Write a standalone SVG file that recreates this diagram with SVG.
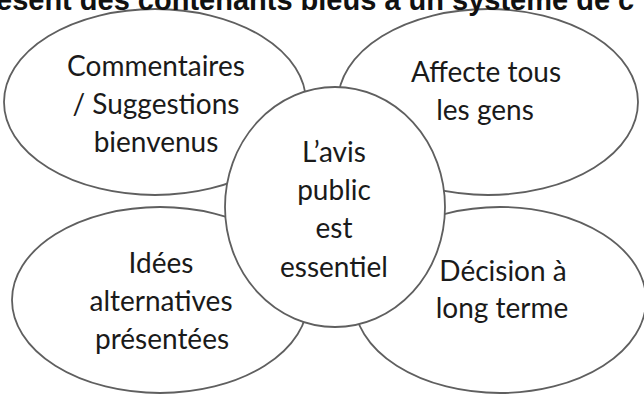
<svg xmlns="http://www.w3.org/2000/svg" width="644" height="395" viewBox="0 0 644 395">
<style>
.bg{fill:#ffffff}
.node{fill:#ffffff;stroke:#5f5f5f;stroke-width:1.8}
.lbl{font-family:Lato,"Open Sans","Liberation Sans",sans-serif;font-size:28px;fill:#1a1a1a;text-anchor:middle}
.hdr{font-family:"Liberation Sans",Arial,sans-serif;font-size:29px;font-weight:bold;fill:#111111}
</style>
<rect class="bg" x="0" y="0" width="644" height="395"/>
<g id="connectors"></g>
<g id="node-commentaires">
<ellipse class="node" cx="155" cy="102" rx="151" ry="93"/>
<text class="lbl"><tspan x="156" y="76">Commentaires</tspan><tspan x="156" y="114">/ Suggestions</tspan><tspan x="156" y="152">bienvenus</tspan></text>
</g>
<g id="node-affecte">
<ellipse class="node" cx="488" cy="102" rx="150" ry="93"/>
<text class="lbl"><tspan x="486" y="82">Affecte tous</tspan><tspan x="485" y="120">les gens</tspan></text>
</g>
<g id="node-idees">
<ellipse class="node" cx="160" cy="300" rx="148" ry="93"/>
<text class="lbl"><tspan x="161" y="273">Idées</tspan><tspan x="161" y="311">alternatives</tspan><tspan x="162" y="349">présentées</tspan></text>
</g>
<g id="node-decision">
<ellipse class="node" cx="500" cy="300" rx="146" ry="93"/>
<text class="lbl"><tspan x="503" y="281">Décision à</tspan><tspan x="502" y="318">long terme</tspan></text>
</g>
<g id="node-center">
<ellipse class="node" cx="335" cy="207" rx="110" ry="120"/>
<text class="lbl"><tspan x="334" y="162">L’avis</tspan><tspan x="334" y="200">public</tspan><tspan x="334" y="238">est</tspan><tspan x="334" y="277">essentiel</tspan></text>
</g>
<text class="hdr" x="-4" y="10">esent des contenants bleus à un système de c</text>
</svg>
